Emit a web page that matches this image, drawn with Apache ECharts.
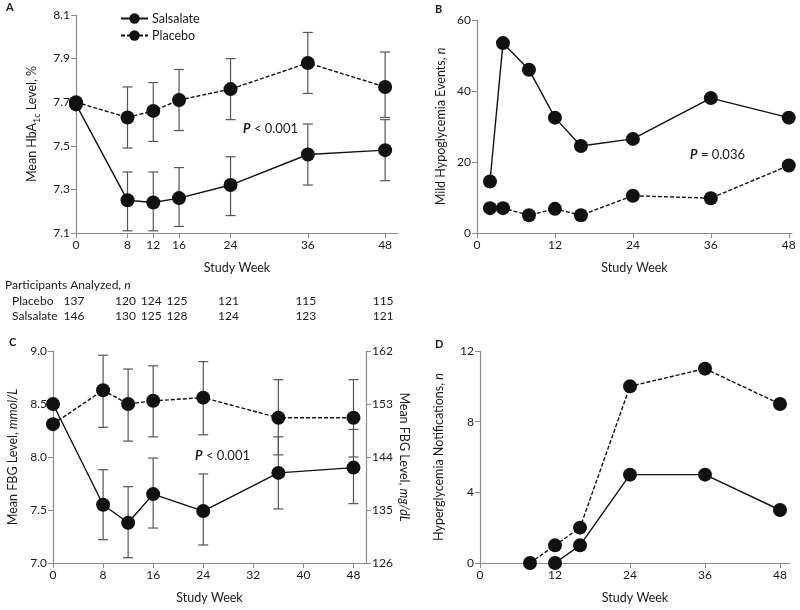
<!DOCTYPE html>
<html>
<head>
<meta charset="utf-8">
<script src="https://cdn.jsdelivr.net/npm/echarts@6/dist/echarts.min.js"></script>
<style>
  html, body { margin: 0; padding: 0; background: #fff; }
  #main { width: 800px; height: 610px; }
</style>
</head>
<body>
<div id="main"></div>
<script>
// panel A: HbA1c
const weeksA = [0, 8, 12, 16, 24, 36, 48]
const salsalateA = [7.69, 7.25, 7.24, 7.26, 7.32, 7.46, 7.48]
const salsalateALow = [null, 7.11, 7.11, 7.13, 7.18, 7.32, 7.34]
const salsalateAHigh = [null, 7.38, 7.38, 7.40, 7.45, 7.60, 7.62]
const placeboA = [7.70, 7.63, 7.66, 7.71, 7.76, 7.88, 7.77]
const placeboALow = [null, 7.49, 7.52, 7.57, 7.62, 7.74, 7.63]
const placeboAHigh = [null, 7.77, 7.79, 7.85, 7.90, 8.02, 7.93]
const ticksA = [7.1, 7.3, 7.5, 7.7, 7.9, 8.1]

// panel B: mild hypoglycemia events
const weeksB = [2, 4, 8, 12, 16, 24, 36, 48]
const salsalateB = [14.5, 53.5, 46, 32.5, 24.5, 26.5, 38, 32.5]
const placeboB = [7, 7, 5, 6.8, 5, 10.5, 9.8, 19]

// panel C: FBG
const weeksC = [0, 8, 12, 16, 24, 36, 48]
const salsalateC = [8.50, 7.55, 7.38, 7.65, 7.49, 7.85, 7.90]
const salsalateCLow = [null, 7.22, 7.05, 7.33, 7.17, 7.51, 7.56]
const salsalateCHigh = [null, 7.88, 7.72, 7.99, 7.84, 8.19, 8.26]
const placeboC = [8.31, 8.63, 8.50, 8.53, 8.56, 8.37, 8.37]
const placeboCLow = [null, 8.28, 8.15, 8.19, 8.21, 8.02, 8.00]
const placeboCHigh = [null, 8.96, 8.83, 8.86, 8.90, 8.73, 8.73]

// panel D: hyperglycemia notifications
const weeksSalsalateD = [12, 16, 24, 36, 48]
const salsalateD = [0, 1, 5, 5, 3]
const weeksPlaceboD = [8, 12, 16, 24, 36, 48]
const placeboD = [0, 1, 2, 10, 11, 9]

// participants table
const placeboN = [137, 120, 124, 125, 121, 115, 115]
const salsalateN = [146, 130, 125, 128, 124, 123, 121]

const FONT = 'Lato'
const TXT = '#1a1a1a'
const AXIS = '#8a8a8a'
const FS = 12

const pairs = (xs, ys) => xs.map((x, i) => [x, ys[i]])
const bars = (xs, lo, hi) => xs.map((x, i) => [x, lo[i], hi[i]]).filter(d => d[1] != null)

const errorBar = (params, api) => {
  const x = api.value(0)
  const lo = api.coord([x, api.value(1)])
  const hi = api.coord([x, api.value(2)])
  const w = 5
  const style = { stroke: '#555', lineWidth: 1.2 }
  return {
    type: 'group',
    children: [
      { type: 'line', shape: { x1: lo[0], y1: lo[1], x2: hi[0], y2: hi[1] }, style },
      { type: 'line', shape: { x1: lo[0] - w, y1: lo[1], x2: lo[0] + w, y2: lo[1] }, style },
      { type: 'line', shape: { x1: hi[0] - w, y1: hi[1], x2: hi[0] + w, y2: hi[1] }, style }
    ]
  }
}

const axisBase = {
  axisLine: { show: true, lineStyle: { color: AXIS, width: 1.2 } },
  axisTick: { show: true, length: 5, lineStyle: { color: AXIS } },
  axisLabel: { color: TXT, fontFamily: FONT, fontSize: FS, margin: 6 },
  splitLine: { show: false },
  nameTextStyle: { color: TXT, fontFamily: FONT, fontSize: 12.5 }
}

const xAx = (gridIndex, max, ticks) => ({
  ...axisBase,
  type: 'value',
  gridIndex,
  min: 0,
  max,
  name: 'Study Week',
  nameLocation: 'middle',
  nameGap: 28,
  axisTick: { ...axisBase.axisTick, customValues: ticks },
  axisLabel: { ...axisBase.axisLabel, customValues: ticks }
})

const yAx = (gridIndex, min, max, ticks, name, gap, extra) => ({
  ...axisBase,
  type: 'value',
  gridIndex,
  min,
  max,
  name,
  nameLocation: 'middle',
  nameGap: gap,
  axisTick: { ...axisBase.axisTick, customValues: ticks },
  axisLabel: { ...axisBase.axisLabel, customValues: ticks },
  ...extra
})

const rich = {
  it: { fontStyle: 'italic', fontFamily: FONT, fontSize: 12.5, color: TXT },
  sub: { fontFamily: FONT, fontSize: 9, color: TXT, verticalAlign: 'bottom', padding: [0, 0, -4, 0] }
}

const lineSeries = (name, x, y, data, dashed) => ({
  name,
  type: 'line',
  xAxisIndex: x,
  yAxisIndex: y,
  data,
  symbol: 'circle',
  symbolSize: 14,
  z: 5,
  itemStyle: { color: '#111' },
  lineStyle: { color: '#111', width: 1.4, type: dashed ? [4, 2] : 'solid' },
  emphasis: { disabled: true }
})

const errSeries = (x, y, data) => ({
  type: 'custom',
  xAxisIndex: x,
  yAxisIndex: y,
  renderItem: errorBar,
  data,
  encode: { x: 0, y: [1, 2] },
  z: 3,
  silent: true
})

const chart = echarts.init(document.getElementById('main'))

const option = {
  animation: false,
  textStyle: { fontFamily: FONT },
  grid: [
    { left: 76, top: 15, width: 322, height: 218 },
    { left: 477, top: 20, width: 315, height: 213 },
    { left: 53, top: 351, width: 313, height: 212 },
    { left: 480, top: 351, width: 310, height: 212 }
  ],
  legend: {
    left: 115,
    top: 7,
    orient: 'vertical',
    itemWidth: 27,
    itemHeight: 13,
    itemGap: 4,
    data: ['Salsalate', 'Placebo'],
    textStyle: { color: TXT, fontFamily: FONT, fontSize: 12.5, padding: [0, 0, 0, -1] },
    selectedMode: false
  },
  xAxis: [
    xAx(0, 50, weeksA),
    xAx(1, 48.5, [0, 12, 24, 36, 48]),
    xAx(2, 50, [0, 8, 16, 24, 32, 40, 48]),
    xAx(3, 49.6, [0, 12, 24, 36, 48])
  ],
  yAxis: [
    yAx(0, 7.1, 8.1, ticksA, 'Mean HbA{sub|1c} Level, %', 38,
      { nameTextStyle: { ...axisBase.nameTextStyle, rich }, axisLabel: { ...axisBase.axisLabel, customValues: ticksA, formatter: v => v.toFixed(1) } }),
    yAx(1, 0, 60, [0, 20, 40, 60], 'Mild Hypoglycemia Events, {it|n}', 30,
      { nameTextStyle: { ...axisBase.nameTextStyle, rich } }),
    yAx(2, 7, 9, [7, 7.5, 8, 8.5, 9], 'Mean FBG Level, {it|mmol/L}', 34,
      { nameTextStyle: { ...axisBase.nameTextStyle, rich }, axisLabel: { ...axisBase.axisLabel, customValues: [7, 7.5, 8, 8.5, 9], formatter: v => v.toFixed(1) } }),
    yAx(2, 126, 162, [126, 135, 144, 153, 162], 'Mean FBG Level, {it|mg/dL}', 32,
      { position: 'right', nameRotate: -90, nameTextStyle: { ...axisBase.nameTextStyle, rich } }),
    yAx(3, 0, 12, [0, 4, 8, 12], 'Hyperglycemia Notifications, {it|n}', 35,
      { nameTextStyle: { ...axisBase.nameTextStyle, rich } })
  ],
  series: [
    errSeries(0, 0, bars(weeksA, placeboALow, placeboAHigh)),
    errSeries(0, 0, bars(weeksA, salsalateALow, salsalateAHigh)),
    lineSeries('Salsalate', 0, 0, pairs(weeksA, salsalateA), false),
    lineSeries('Placebo', 0, 0, pairs(weeksA, placeboA), true),
    lineSeries('Salsalate', 1, 1, pairs(weeksB, salsalateB), false),
    lineSeries('Placebo', 1, 1, pairs(weeksB, placeboB), true),
    errSeries(2, 2, bars(weeksC, placeboCLow, placeboCHigh)),
    errSeries(2, 2, bars(weeksC, salsalateCLow, salsalateCHigh)),
    lineSeries('Salsalate', 2, 2, pairs(weeksC, salsalateC), false),
    lineSeries('Placebo', 2, 2, pairs(weeksC, placeboC), true),
    lineSeries('Salsalate', 3, 4, pairs(weeksSalsalateD, salsalateD), false),
    lineSeries('Placebo', 3, 4, pairs(weeksPlaceboD, placeboD), true)
  ]
}
chart.setOption(option)

// text annotations and the participants table
const label = (text, left, top, extra) => ({
  type: 'text',
  left,
  top,
  style: { text, fill: TXT, font: `${FS}px "${FONT}"`, ...extra }
})
const pText = (rest, left, top) => ({
  type: 'text',
  left,
  top,
  style: {
    text: '{it|P} ' + rest,
    fill: TXT,
    font: `13px "${FONT}"`,
    rich: { it: { fontStyle: 'italic', fontWeight: 'bold', fontFamily: FONT, fontSize: 13, fill: TXT } }
  }
})

const graphics = [
  label('A', 6, 2, { font: `bold 11px "${FONT}"` }),
  label('B', 435, 4, { font: `bold 11px "${FONT}"` }),
  label('C', 9, 337, { font: `bold 11px "${FONT}"` }),
  label('D', 435, 339, { font: `bold 11px "${FONT}"` }),
  pText('< 0.001', 243, 122),
  pText('= 0.036', 690, 148),
  pText('< 0.001', 195, 449),
  {
    type: 'text', left: 5, top: 279,
    style: { text: 'Participants Analyzed, {it|n}', fill: TXT, font: `${FS}px "${FONT}"`, rich: { it: { fontStyle: 'italic', fontFamily: FONT, fontSize: FS, fill: TXT } } }
  },
  label('Placebo', 12, 295),
  label('Salsalate', 12, 310)
]
weeksA.forEach((w, i) => {
  const x = chart.convertToPixel({ xAxisIndex: 0 }, w) - 2
  graphics.push({ type: 'text', x, y: 295, style: { text: String(placeboN[i]), fill: TXT, font: `${FS}px "${FONT}"`, align: 'center' } })
  graphics.push({ type: 'text', x, y: 310, style: { text: String(salsalateN[i]), fill: TXT, font: `${FS}px "${FONT}"`, align: 'center' } })
})
chart.setOption({ graphic: graphics })
</script>
</body>
</html>
